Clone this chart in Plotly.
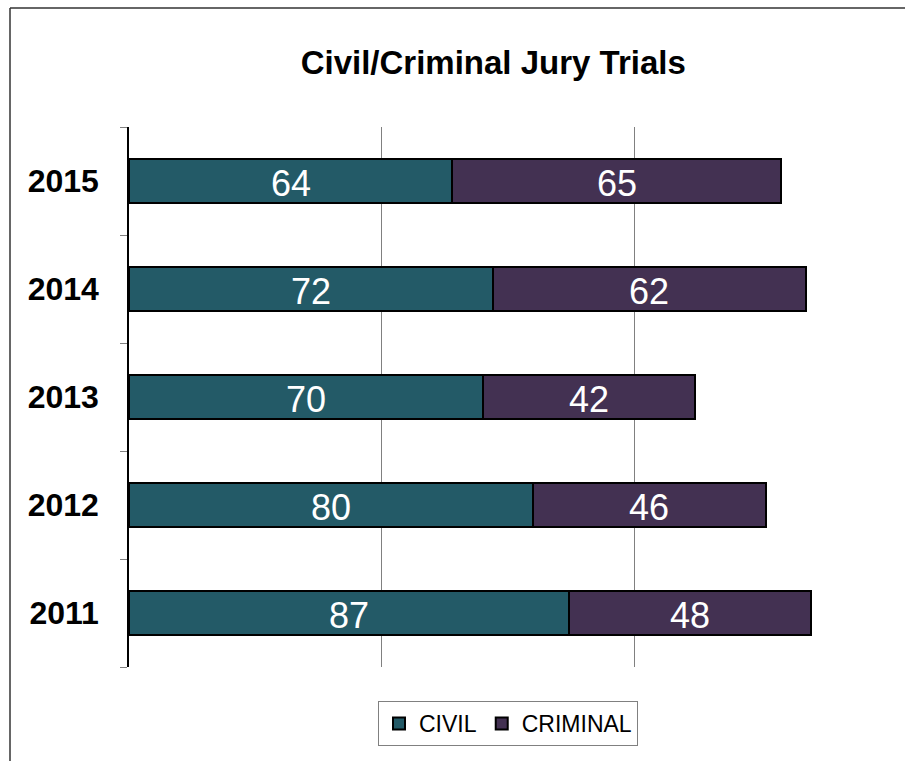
import plotly.graph_objects as go

years = ["2011", "2012", "2013", "2014", "2015"]
civil = [87, 80, 70, 72, 64]
criminal = [48, 46, 42, 62, 65]

civil_color = "#235a67"
criminal_color = "#433152"

fig = go.Figure()
fig.add_trace(go.Bar(
    y=years, x=civil, name="CIVIL", orientation="h",
    marker=dict(color=civil_color, line=dict(color="black", width=2)),
))
fig.add_trace(go.Bar(
    y=years, x=criminal, name="CRIMINAL", orientation="h",
    marker=dict(color=criminal_color, line=dict(color="black", width=2)),
))

# value labels centred in each stacked segment (y given as category index)
label_font = dict(family="Liberation Sans, Arial", size=36, color="white")
annotations = []
for i, (cv, cr) in enumerate(zip(civil, criminal)):
    annotations.append(dict(x=cv / 2, y=i, text=str(cv), showarrow=False,
                            xref="x", yref="y", font=label_font, yshift=-2))
    annotations.append(dict(x=cv + cr / 2, y=i, text=str(cr), showarrow=False,
                            xref="x", yref="y", font=label_font, yshift=-2))

W, H = 905, 761
ml, mr, mt, mb = 129, 18, 127, 94
pw, ph = W - ml - mr, H - mt - mb

def px_x(x):
    return (x - ml) / pw

def px_y(y):
    return (H - mb - y) / ph

fig.update_layout(
    width=W, height=H,
    margin=dict(l=ml, r=mr, t=mt, b=mb),
    barmode="stack", bargap=0.59,
    paper_bgcolor="white", plot_bgcolor="white",
    font=dict(family="Liberation Sans, Arial", color="black"),
    title=dict(
        text="<b>Civil/Criminal Jury Trials</b>",
        font=dict(family="Liberation Sans, Arial", size=33, color="black"),
        x=0.545, xanchor="center", y=1 - 62 / H, yanchor="middle",
    ),
    xaxis=dict(
        range=[0, 150], showticklabels=False, showgrid=True, gridcolor="#808080",
        gridwidth=1, tickvals=[50, 100, 150], zeroline=False, showline=False, ticks="",
    ),
    yaxis=dict(
        type="category", categoryorder="array", categoryarray=years,
        range=[-0.5, 4.5],
        showline=True, linecolor="black", linewidth=1.5,
        ticks="outside", tickson="boundaries", ticklen=7, tickcolor="#808080",
        tickfont=dict(family="Liberation Sans, Arial", size=32, color="black"),
        tickprefix="<b>", ticksuffix="</b>", ticklabelstandoff=22,
        showgrid=False,
    ),
    legend=dict(
        orientation="h", x=px_x(508), xanchor="center", y=px_y(701), yanchor="top",
        bordercolor="#808080", borderwidth=1, bgcolor="white",
        font=dict(family="Liberation Sans, Arial", size=23, color="black"),
        itemwidth=30, traceorder="normal",
    ),
    annotations=annotations,
    shapes=[
        dict(type="line", xref="paper", yref="paper",
             x0=px_x(10), x1=px_x(910), y0=px_y(8), y1=px_y(8),
             line=dict(color="#333333", width=1.5)),
        dict(type="line", xref="paper", yref="paper",
             x0=px_x(10), x1=px_x(10), y0=px_y(8), y1=px_y(765),
             line=dict(color="#333333", width=1.5)),
    ],
)

fig.write_html("out.html")
